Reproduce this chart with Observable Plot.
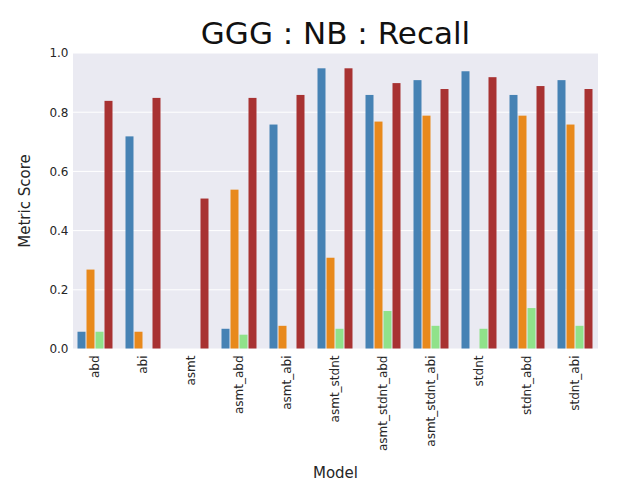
<!DOCTYPE html>
<html><head><meta charset="utf-8">
<script src="https://cdn.jsdelivr.net/npm/d3@7"></script>
<script src="https://cdn.jsdelivr.net/npm/@observablehq/plot@0.6"></script>
<style>body{margin:0;background:#fff;font-family:"DejaVu Sans",sans-serif}</style>
</head><body><div id="chart"></div>
<script>
const models = ["abd","abi","asmt","asmt_abd","asmt_abi","asmt_stdnt","asmt_stdnt_abd","asmt_stdnt_abi","stdnt","stdnt_abd","stdnt_abi"];
const metrics = ["m1","m2","m3","m4"];
const colours = ["#4682b4","#e8891c","#90e28a","#a83232"];
const s1 = [0.06,0.72,0,0.07,0.76,0.95,0.86,0.91,0.94,0.86,0.91];
const s2 = [0.27,0.06,0,0.54,0.08,0.31,0.77,0.79,0,0.79,0.76];
const s3 = [0.06,0,0,0.05,0,0.07,0.13,0.08,0.07,0.14,0.08];
const s4 = [0.84,0.85,0.51,0.85,0.86,0.95,0.90,0.88,0.92,0.89,0.88];
const yTicks = [0,0.2,0.4,0.6,0.8,1.0];

const rows = [];
[s1,s2,s3,s4].forEach((s,j)=> s.forEach((v,i)=> rows.push({model:models[i], metric:metrics[j], value:v})));

const W=625,H=500,ML=73,MR=27,MT=53,MB=151;
const plot = Plot.plot({
  width:W, height:H, marginLeft:ML, marginRight:MR, marginTop:MT, marginBottom:MB,
  style:{fontFamily:"DejaVu Sans, sans-serif", fontSize:"12px", background:"transparent"},
  fx:{domain:models, paddingInner:0.2, paddingOuter:0, label:null, tickRotate:-90, tickSize:0, tickPadding:6},
  x:{domain:metrics, padding:0, axis:null},
  y:{domain:[0,1], ticks:yTicks, tickFormat:d3.format(".1f"), label:null, tickSize:0, tickPadding:8},
  color:{domain:metrics, range:colours},
  marks:[
    Plot.barY(rows,{fx:"model", x:"metric", y:"value", fill:"metric", inset:0.5})
  ]
});
const svg = d3.select(plot);
const y = plot.scale("y");
const bg = svg.insert("g",":first-child");
bg.append("rect").attr("x",ML).attr("y",MT).attr("width",W-ML-MR).attr("height",H-MT-MB).attr("fill","#eaeaf2");
yTicks.forEach(t=> bg.append("line").attr("x1",ML).attr("x2",W-MR).attr("y1",y.apply(t)).attr("y2",y.apply(t)).attr("stroke","#fff").attr("stroke-width",1));
svg.selectAll("text").attr("fill","#262626");
svg.append("text").attr("x",(ML+W-MR)/2).attr("y",44).attr("text-anchor","middle").attr("font-size",31).attr("fill","#111").text("GGG : NB : Recall");
svg.append("text").attr("x",(ML+W-MR)/2).attr("y",478).attr("text-anchor","middle").attr("font-size",15).attr("fill","#262626").text("Model");
svg.append("text").attr("transform",`translate(30,${(MT+H-MB)/2}) rotate(-90)`).attr("text-anchor","middle").attr("font-size",15).attr("fill","#262626").text("Metric Score");
document.getElementById("chart").append(plot);
</script></body></html>
